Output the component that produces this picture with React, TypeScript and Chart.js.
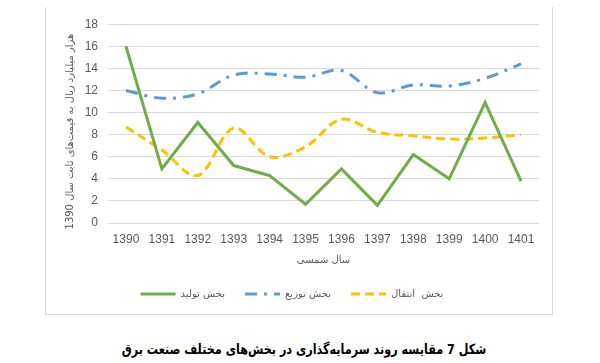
import React, { useEffect, useRef } from "react";
import { Chart, registerables } from "chart.js";

Chart.register(...registerables);

const years = ["1390", "1391", "1392", "1393", "1394", "1395", "1396", "1397", "1398", "1399", "1400", "1401"];
const production = [16.0, 4.9, 9.1, 5.2, 4.3, 1.7, 4.9, 1.6, 6.2, 4.0, 10.9, 3.8];
const distribution = [12.0, 11.3, 11.7, 13.4, 13.5, 13.2, 13.8, 11.8, 12.5, 12.4, 13.1, 14.4];
const transmission = [8.7, 6.6, 4.3, 8.6, 6.0, 6.9, 9.4, 8.2, 7.9, 7.6, 7.7, 8.0];
const yTicks = [0, 2, 4, 6, 8, 10, 12, 14, 16, 18];

const labelProduction = "بخش تولید";
const labelDistribution = "بخش توزیع";
const labelTransmission = "بخش  انتقال";
const xTitle = "سال شمسی";
const yTitle = "\u202B\u00A0\u00A0\u00A0\u00A0\u00A0هزار میلیارد ریال به قیمت‌های ثابت سال 1390\u202C";
const figureTitle = "شکل 7 مقایسه روند سرمایه‌گذاری در بخش‌های مختلف صنعت برق";

const GREY = "#595959";
const NUM_FONT = "'Liberation Sans', Arial, sans-serif";
const AR_FONT = "'DejaVu Sans', sans-serif";

export default function App() {
  const canvasRef = useRef<HTMLCanvasElement | null>(null);

  useEffect(() => {
    const canvas = canvasRef.current;
    if (!canvas) return;
    const chart = new Chart(canvas, {
      type: "line",
      data: {
        labels: years,
        datasets: [
          {
            label: labelProduction,
            data: production,
            borderColor: "#70AD47",
            backgroundColor: "#70AD47",
            borderWidth: 3,
            pointRadius: 0,
            tension: 0,
          },
          {
            label: labelDistribution,
            data: distribution,
            borderColor: "#5B9BD5",
            backgroundColor: "#5B9BD5",
            borderWidth: 3,
            borderDash: [12, 7, 3, 7],
            pointRadius: 0,
            tension: 0.35,
          },
          {
            label: labelTransmission,
            data: transmission,
            borderColor: "#FFC000",
            backgroundColor: "#FFC000",
            borderWidth: 3,
            borderDash: [9, 5],
            pointRadius: 0,
            tension: 0.35,
          },
        ],
      },
      options: {
        responsive: false,
        animation: false,
        devicePixelRatio: 1,
        layout: { padding: { top: 12, right: 14, left: 0, bottom: 6 } },
        scales: {
          x: {
            offset: true,
            grid: { display: false, drawTicks: false },
            border: { display: false },
            ticks: { color: GREY, font: { size: 12, family: NUM_FONT }, padding: 9, maxRotation: 0 },
            title: {
              display: true,
              text: xTitle,
              color: GREY,
              font: { size: 10, family: AR_FONT },
              padding: { top: 0, bottom: 3 },
            },
            afterFit: (scale: any) => {
              scale.height = 46;
            },
          },
          y: {
            min: 0,
            max: 18,
            afterBuildTicks: (axis: any) => {
              axis.ticks = yTicks.map((v) => ({ value: v }));
            },
            grid: { color: "#d9d9d9", drawTicks: false, lineWidth: 1 },
            border: { display: false },
            ticks: { color: GREY, font: { size: 12, family: NUM_FONT }, padding: 10 },
            title: {
              display: true,
              text: yTitle,
              color: GREY,
              font: { size: 10, family: AR_FONT },
              padding: { top: 19, bottom: 0 },
            },
            afterFit: (scale: any) => {
              scale.width = 63;
            },
          },
        },
        plugins: {
          legend: {
            position: "bottom",
            labels: {
              usePointStyle: true,
              pointStyle: "line",
              pointStyleWidth: 35,
              color: GREY,
              font: { size: 10, family: AR_FONT },
              padding: 20,
              generateLabels: (c: any) =>
                c.data.datasets.map((ds: any, i: number) => ({
                  text: ds.label,
                  fillStyle: ds.borderColor,
                  strokeStyle: ds.borderColor,
                  lineWidth: 3,
                  lineDash: ds.borderDash || [],
                  lineCap: "butt",
                  pointStyle: "line",
                  hidden: false,
                  datasetIndex: i,
                  fontColor: GREY,
                })),
            },
          },
          tooltip: { enabled: false },
        },
      },
    });
    return () => chart.destroy();
  }, []);

  return (
    <div style={{ position: "fixed", left: 0, top: 0, width: 600, height: 363, background: "#fff" }}>
      <div
        style={{
          position: "absolute",
          left: 45,
          top: 7,
          width: 508,
          height: 308,
          boxSizing: "border-box",
          borderLeft: "1px solid #d9d9d9",
          borderRight: "1px solid #d9d9d9",
          borderBottom: "1px solid #d9d9d9",
        }}
      />
      <div style={{ position: "absolute", left: 45, top: 7, width: 508, height: 308 }}>
        <canvas ref={canvasRef} width={508} height={308} style={{ width: 508, height: 308, display: "block" }} />
      </div>
      <div
        style={{
          position: "absolute",
          left: 0,
          top: 339,
          width: 608,
          textAlign: "center",
          fontFamily: AR_FONT,
          fontWeight: "bold",
          fontSize: 14,
          color: "#000",
          direction: "rtl",
          lineHeight: "20px",
          transform: "scaleX(0.8)",
          transformOrigin: "304px 0",
        }}
      >
        {figureTitle}
      </div>
    </div>
  );
}
